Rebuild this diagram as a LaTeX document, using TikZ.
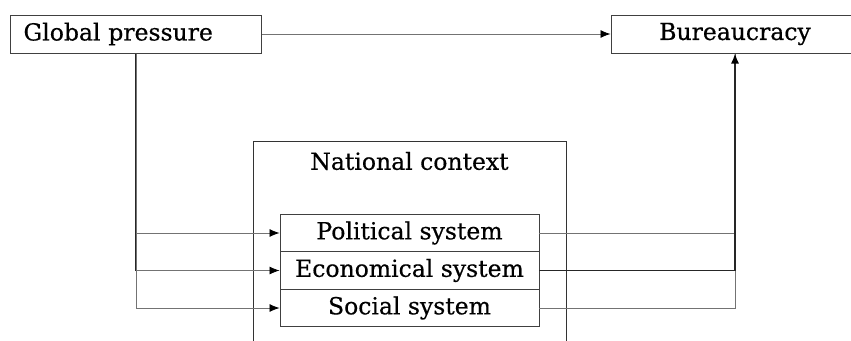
\documentclass[tikz,border=0pt]{standalone}
\usepackage{fontspec}
\setmainfont[FakeBold=0.5]{DejaVu Serif}
\usetikzlibrary{arrows.meta}
\begin{document}
\begin{tikzpicture}[x=1pt,y=-1pt,
  font=\fontsize{23.5}{27}\selectfont,
  box/.style={draw=black!75, line width=1pt, fill=white, inner sep=0pt, minimum height=38pt},
  sysbox/.style={draw=black!75, line width=0.9pt, inner sep=0pt, minimum width=259pt, minimum height=37.5pt},
  link/.style={draw=black!55, line width=0.8pt},
  bold link/.style={draw=black!85, line width=1.3pt},
  tip/.style={-{Latex[length=10pt,width=8pt,color=black]}}]
\useasboundingbox (0,0) rectangle (851,340);

% top row
\node[box, minimum width=251pt, text width=225pt, inner xsep=13pt, align=left, anchor=west] (gp) at (10,34) {Global pressure};
\node[box, minimum width=248pt] (bu) at (735,34) {Bureaucracy};

% national context frame (runs past the lower edge)
\node[draw=black!80, line width=1pt, minimum width=313pt, minimum height=212pt, anchor=north west, inner sep=0pt] (nc) at (253,141) {};
\node (nct) at (409.5,161) {National context};

% subsystems
\node[sysbox] (ps) at (409.5,233) {Political system};
\node[sysbox] (es) at (409.5,270.5) {Economical system};
\node[sysbox] (ss) at (409.5,308) {Social system};

% connectors
\draw[link, tip] (gp.east) -- (bu.west);
\draw[bold link] (gp.south) -- (gp.south |- es.west);
\draw[link, tip] (gp.south) |- (ps.west);
\draw[link, tip] (gp.south) |- (es.west);
\draw[link, tip] (gp.south) |- (ss.west);

\draw[link] (ps.east) -| (bu.south);
\draw[link] (ss.east) -| (bu.south);
\draw[bold link, tip] (es.east) -| (bu.south);
\end{tikzpicture}
\end{document}
